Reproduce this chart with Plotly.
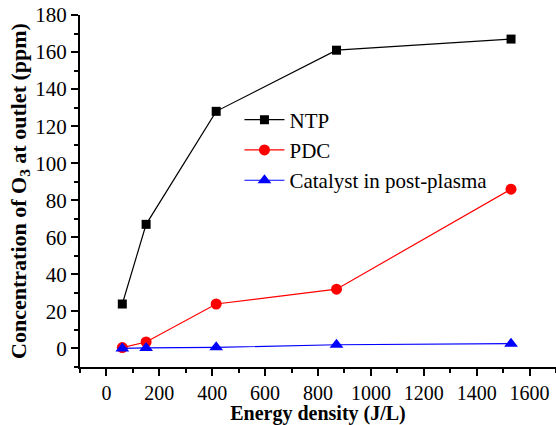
import plotly.graph_objects as go

energy_ntp = [60, 150, 415, 870, 1530]
ntp = [24, 67, 128, 161, 167]
energy_pdc = [60, 150, 415, 870, 1530]
pdc = [0.5, 3.5, 24, 32, 86]
energy_cat = [60, 150, 415, 870, 1530]
cat = [0, 0.3, 0.6, 2.0, 2.6]

x_ticks = [0, 200, 400, 600, 800, 1000, 1200, 1400, 1600]
y_ticks = [0, 20, 40, 60, 80, 100, 120, 140, 160, 180]

font = "Liberation Serif"
fig = go.Figure()
fig.add_trace(go.Scatter(x=energy_ntp, y=ntp, name="NTP", mode="lines+markers",
                         line=dict(color="black", width=1.2),
                         marker=dict(symbol="square", size=9, color="black")))
fig.add_trace(go.Scatter(x=energy_pdc, y=pdc, name="PDC", mode="lines+markers",
                         line=dict(color="red", width=1.2),
                         marker=dict(symbol="circle", size=11, color="red")))
fig.add_trace(go.Scatter(x=energy_cat, y=cat, name="Catalyst in post-plasma", mode="lines+markers",
                         line=dict(color="blue", width=1.2),
                         marker=dict(symbol="triangle-up", size=12, color="blue")))

fig.update_xaxes(range=[-100, 1700], tickmode="array", tickvals=x_ticks,
                 showgrid=False, zeroline=False, showline=True, linecolor="black", linewidth=2,
                 ticks="outside", ticklen=7, tickwidth=2, tickcolor="black",
                 tickfont_family=font, tickfont_size=20, tickfont_color="black",
                 title=dict(text="<b>Energy density (J/L)</b>", font=dict(family=font, size=20, color="black"), standoff=4),
                 minor=dict(ticks="outside", ticklen=4, tickwidth=1.5, tickcolor="black", dtick=100, tick0=0))
fig.update_yaxes(range=[-10, 180], tickmode="array", tickvals=y_ticks,
                 showgrid=False, zeroline=False, showline=True, linecolor="black", linewidth=2,
                 ticks="outside", ticklen=7, tickwidth=2, tickcolor="black",
                 tickfont_family=font, tickfont_size=21, tickfont_color="black",
                 title=dict(text="<b>Concentration of O<sub>3</sub> at outlet (ppm)</b>", font=dict(family=font, size=22, color="black"), standoff=3),
                 minor=dict(ticks="outside", ticklen=4, tickwidth=1.5, tickcolor="black", dtick=10, tick0=0))

fig.update_layout(width=556, height=425, margin=dict(l=80, r=0, t=15, b=58),
                  plot_bgcolor="white", paper_bgcolor="white",
                  font=dict(family=font, size=21, color="black"),
                  legend=dict(x=0.335, y=0.76, xanchor="left", yanchor="top",
                              font=dict(family=font, size=21, color="black"),
                              bgcolor="rgba(0,0,0,0)", tracegroupgap=0, itemwidth=40))
fig.write_html("out.html")
